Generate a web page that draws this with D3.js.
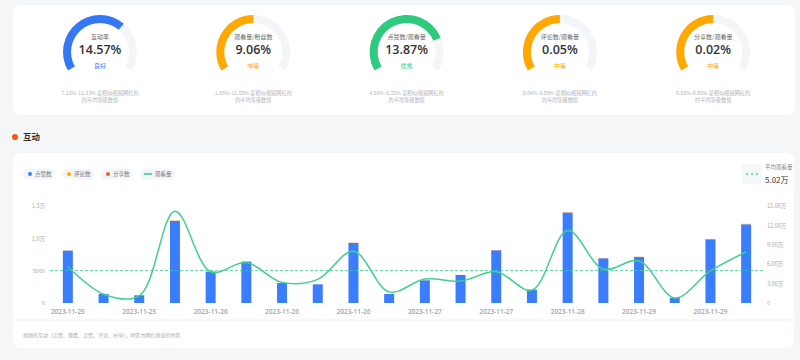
<!DOCTYPE html>
<html><head><meta charset="utf-8">
<script src="https://cdn.jsdelivr.net/npm/d3@7"></script>
<style>
html,body{margin:0;padding:0;background:#f5f6f8;}
svg{display:block;font-family:"Noto Sans CJK SC","Noto Sans",sans-serif;}
</style></head>
<body><svg id="c" width="800" height="360"></svg>
<script>
// ---- gauge data ----
const gaugeTitles = ["互动率","观看量/粉丝数","点赞数/观看量","评论数/观看量","分享数/观看量"];
const gaugeValues = ["14.57%","9.06%","13.87%","0.05%","0.02%"];
const gaugeProgress = [0.667, 0.5, 0.78, 0.5, 0.5];
const gaugeRatings = ["良好","中等","优秀","中等","中等"];
const gaugeRanges = ["7.12%-12.33%","1.86%-11.59%","4.56%-8.32%","0.04%-0.09%","0.02%-0.06%"];
const ratingColors = {"良好":"#3478f6","中等":"#ffa800","优秀":"#2ecb7f"};

// ---- chart data ----
const dates = ["2023-11-25","2023-11-25","2023-11-25","2023-11-25","2023-11-26","2023-11-26","2023-11-26","2023-11-26","2023-11-26","2023-11-27",
               "2023-11-27","2023-11-27","2023-11-27","2023-11-28","2023-11-28","2023-11-28","2023-11-29","2023-11-29","2023-11-29","2023-11-29"];
const likes    = [8100,1390,1190,12680,4850,6400,3090,2890,9280,1390,3510,4330,8150,2070,13980,6910,7110,770,9850,12170];
const comments = [30,5,5,45,18,25,12,10,35,5,12,15,30,8,50,25,28,3,38,45];
const shares   = [12,2,2,18,8,10,5,4,14,2,5,6,12,3,20,10,11,1,15,18];
const views    = [56000,13600,11000,142000,48400,62500,31900,36600,80000,17200,37000,33900,48400,19800,112000,52600,65000,7800,49500,79000];
const leftTicks = [0,5000,10000,15000];
const leftTickLabels = ["0","5000","1.0万","1.5万"];
const rightTicks = [0,30000,60000,90000,120000,150000];
const rightTickLabels = ["0","3.00万","6.00万","9.00万","12.00万","15.00万"];
const legendNames = ["点赞数","评论数","分享数","观看量"];
const seriesColors = ["#3a7dff","#ffb347","#f45c19","#3fd08f"];
const avgLabel = "平均观看量";
const noteText = "视频的互动（点赞、观看、点赞、评论、分享），时区为网红频道的时区";

const svg = d3.select("#c");

// ---- top card ----
svg.append("rect").attr("x",13).attr("y",5).attr("width",782).attr("height",110).attr("rx",8).attr("fill","#fff");
const arcBg = d3.arc().innerRadius(29).outerRadius(37).startAngle(-2*Math.PI/3).endAngle(2*Math.PI/3);
const angle = d3.scaleLinear().domain([0,1]).range([-2*Math.PI/3, 2*Math.PI/3]);
gaugeTitles.forEach((t,i)=>{
  const g = svg.append("g").attr("transform",`translate(${100+i*153.3},52)`);
  const col = ratingColors[gaugeRatings[i]];
  g.append("path").attr("d",arcBg()).attr("fill","#f4f5f8");
  g.append("path").attr("d",d3.arc().innerRadius(29).outerRadius(37).startAngle(angle(0)).endAngle(angle(gaugeProgress[i]))()).attr("fill",col);
  g.append("text").attr("y",-13).attr("text-anchor","middle").attr("font-size",6).attr("fill","#666").text(t);
  g.append("text").attr("y",2).attr("text-anchor","middle").attr("font-size",12.5).attr("font-weight",600).attr("fill","#333")
    .attr("font-family","'Open Sans',sans-serif").text(gaugeValues[i]);
  g.append("text").attr("y",16).attr("text-anchor","middle").attr("font-size",6).attr("fill",col).text(gaugeRatings[i]);
  g.append("text").attr("y",43).attr("text-anchor","middle").attr("font-size",5.2).attr("fill","#b0b3b8").text(gaugeRanges[i]+" 是相似视频网红的");
  g.append("text").attr("y",50).attr("text-anchor","middle").attr("font-size",5.2).attr("fill","#b0b3b8").text("的平均等级数值");
});

// ---- section title ----
svg.append("circle").attr("cx",15).attr("cy",137).attr("r",3).attr("fill","#f25a14");
svg.append("text").attr("x",23).attr("y",140).attr("font-size",8.5).attr("font-weight",600).attr("fill","#333").text("互动");

// ---- chart card ----
svg.append("rect").attr("x",13).attr("y",153).attr("width",781).attr("height",195).attr("rx",8).attr("fill","#fff");

// legend
const pillX = [23,62,101,140], pillW=[32,32,32,35];
legendNames.forEach((n,i)=>{
  const g = svg.append("g");
  g.append("rect").attr("x",pillX[i]).attr("y",168.5).attr("width",pillW[i]).attr("height",11).attr("rx",5.5).attr("fill","#f3f5f9");
  if(i<3){
    g.append("circle").attr("cx",pillX[i]+7).attr("cy",174).attr("r",2).attr("fill",i===1?"#ffa800":seriesColors[i]);
    g.append("text").attr("x",pillX[i]+12).attr("y",176).attr("font-size",5.5).attr("fill","#777").text(n);
  } else {
    g.append("line").attr("x1",pillX[i]+4).attr("x2",pillX[i]+12).attr("y1",174).attr("y2",174).attr("stroke",seriesColors[3]).attr("stroke-width",1.6);
    g.append("text").attr("x",pillX[i]+15).attr("y",176).attr("font-size",5.5).attr("fill","#777").text(n);
  }
});

// scales
const idx = d3.range(likes.length);
const x = d3.scaleBand().domain(idx).range([50,764]).paddingInner(0.72).paddingOuter(0.36);
const yL = d3.scaleLinear().domain([0,15000]).range([303,206]);
const yR = d3.scaleLinear().domain([0,150000]).range([303,206]);

// axes
const axL = svg.append("g").attr("transform","translate(47,0)")
  .call(d3.axisLeft(yL).tickValues(leftTicks).tickSize(0).tickPadding(2).tickFormat((d,i)=>leftTickLabels[i]));
const axR = svg.append("g").attr("transform","translate(765,0)")
  .call(d3.axisRight(yR).tickValues(rightTicks).tickSize(0).tickPadding(2).tickFormat((d,i)=>rightTickLabels[i]));
[axL,axR].forEach(a=>{a.select(".domain").remove(); a.selectAll("text").attr("font-size",5.5).attr("fill","#aaa").attr("font-family","'Noto Sans CJK SC',sans-serif");});
const axB = svg.append("g").attr("transform","translate(0,306)")
  .call(d3.axisBottom(x).tickValues(idx.filter(i=>i%2===0)).tickSize(0).tickPadding(3).tickFormat(i=>dates[i]));
axB.select(".domain").remove();
axB.selectAll("text").attr("font-size",6.5).attr("font-weight",600).attr("fill","#a0a3a8").attr("font-family","'Open Sans',sans-serif");

// stacked bars
const stackData = idx.map(i=>({i, likes:likes[i], comments:comments[i], shares:shares[i]}));
const stack = d3.stack().keys(["likes","comments","shares"])(stackData);
svg.append("g").selectAll("g").data(stack).join("g").attr("fill",(d,k)=>seriesColors[k])
  .selectAll("rect").data(d=>d).join("rect")
  .attr("x",d=>x(d.data.i)).attr("width",x.bandwidth())
  .attr("y",d=>yL(d[1])).attr("height",d=>Math.max(0,yL(d[0])-yL(d[1])));

// average dashed line
const avg = d3.mean(views);
svg.append("line").attr("x1",50).attr("x2",764).attr("y1",yR(avg)).attr("y2",yR(avg))
  .attr("stroke",seriesColors[3]).attr("stroke-width",0.8).attr("stroke-dasharray","3,2");

// views line
const line = d3.line().x(i=>x(i)+x.bandwidth()/2).y(i=>yR(views[i])).curve(d3.curveCatmullRom.alpha(0.5));
svg.append("path").attr("d",line(idx)).attr("fill","none").attr("stroke",seriesColors[3]).attr("stroke-width",1.5);

// avg box
svg.append("rect").attr("x",742).attr("y",164).attr("width",20).attr("height",20).attr("rx",3).attr("fill","#f5f6f8");
[747,752,757].forEach(cx=>svg.append("circle").attr("cx",cx).attr("cy",174).attr("r",0.9).attr("fill",seriesColors[3]));
svg.append("text").attr("x",765).attr("y",169).attr("font-size",5.5).attr("fill","#888").text(avgLabel);
svg.append("text").attr("x",765).attr("y",182.5).attr("font-size",8).attr("fill","#333").text((avg/10000).toFixed(2)+"万");

// divider and note
svg.append("line").attr("x1",13).attr("x2",794).attr("y1",320).attr("y2",320).attr("stroke","#f0f1f3").attr("stroke-width",1);
svg.append("text").attr("x",23).attr("y",337).attr("font-size",5).attr("fill","#aaa").text(noteText);
</script></body></html>
